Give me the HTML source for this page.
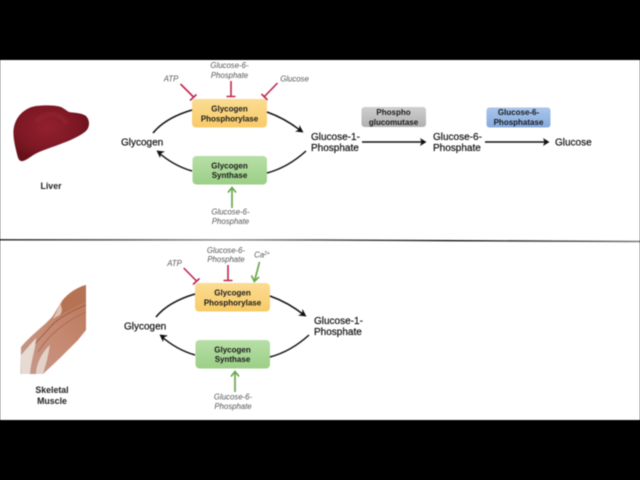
<!DOCTYPE html>
<html>
<head>
<meta charset="utf-8">
<style>
html,body{margin:0;padding:0;background:#000;width:640px;height:480px;overflow:hidden}
svg{display:block;filter:blur(.4px)}
text{font-family:"Liberation Sans",sans-serif}
.m{font-size:10px;fill:#111;stroke:#111;stroke-width:.2px}
.b{font-size:8px;font-weight:bold;fill:#1a1a1a;text-anchor:middle}
.i{font-size:7.8px;font-style:italic;fill:#555;text-anchor:middle}
.s{font-size:8.8px;font-weight:bold;fill:#222;text-anchor:middle}
.k{fill:none;stroke:#111;stroke-width:1.5}
.h{fill:#111;stroke:none}
.r{fill:none;stroke:#c0274d;stroke-width:1.6}
.g{fill:none;stroke:#6aa84f;stroke-width:1.7}
</style>
</head>
<body>
<svg width="640" height="480" viewBox="0 0 640 480" xmlns="http://www.w3.org/2000/svg">
<defs>
<linearGradient id="o" x1="0" y1="0" x2="0" y2="1"><stop offset="0" stop-color="#fbdc93"/><stop offset="1" stop-color="#f8cb68"/></linearGradient>
<linearGradient id="gr" x1="0" y1="0" x2="0" y2="1"><stop offset="0" stop-color="#b7dfa6"/><stop offset="1" stop-color="#9ccf87"/></linearGradient>
<linearGradient id="gy" x1="0" y1="0" x2="0" y2="1"><stop offset="0" stop-color="#cfcfcf"/><stop offset="1" stop-color="#b0b0b0"/></linearGradient>
<linearGradient id="bl" x1="0" y1="0" x2="0" y2="1"><stop offset="0" stop-color="#a9c6ec"/><stop offset="1" stop-color="#86aade"/></linearGradient>
<radialGradient id="lv" cx=".45" cy=".4" r=".6"><stop offset="0" stop-color="#93202e"/><stop offset=".65" stop-color="#7d1824"/><stop offset="1" stop-color="#661019"/></radialGradient>
<linearGradient id="ms" x1="1" y1="0" x2="0" y2="1"><stop offset="0" stop-color="#b9785b"/><stop offset=".55" stop-color="#c78b74"/><stop offset="1" stop-color="#c39a8c"/></linearGradient>
<linearGradient id="dv" x1="0" y1="0" x2="1" y2="0"><stop offset="0" stop-color="#222"/><stop offset=".35" stop-color="#888"/><stop offset=".7" stop-color="#111"/><stop offset="1" stop-color="#777"/></linearGradient>
</defs>

<rect x="0" y="0" width="640" height="480" fill="#000"/>
<rect x="0" y="60" width="640" height="360" fill="#fff"/>
<path d="M0 239.800 L320 240 L640 241.500" stroke="url(#dv)" stroke-width="1.400" fill="none"/>

<!-- Liver -->
<path d="M13.500 130 C15 117 24 108 36 106 C46 105 55 105 61 107 C65 109 67 111 69 112 C75 113 82 113 86 116 C90 120 90 127 86 131 C80 136 71 140 63 143 C53 147 43 150 37 153 C31 156 27 160 23 161 C19 162 18 158 17 154 C15 146 13 138 13.500 130Z" fill="url(#lv)"/>
<path d="M36 122 C46 110 62 113 67 124" fill="none" stroke="#a02f3a" stroke-width="5" opacity=".3"/>
<text class="s" x="51" y="189">Liver</text>

<!-- Muscle -->
<path d="M86 285 C78 287 68 293 62 301 C58 307 55 313 52 317 C44 326 30 336 21 347 L20.500 374 L43 374 L60 358 L78 340 L86 330Z" fill="url(#ms)"/>
<path d="M86 285 C78 287 68 293 62 301 C62 309 58 316 54 320 C65 312 76 306 86 302Z" fill="#b57353"/>
<path d="M22 362 C32 346 44 334 54 323 C65 314 76 309 86 305" fill="none" stroke="#9e5f47" stroke-width="1"/>
<path d="M38 352 C48 336 64 322 86 312" fill="none" stroke="#ad6f55" stroke-width="1"/>
<path d="M60 304 C57 311 55 315 53 319 L60 315 C63 311 62 307 60 304Z" fill="#e0c3b3"/>
<path d="M21 355 L36 338 C36 348 31 360 30 374 L21 374Z" fill="#e7dad2"/>
<path d="M36 374 C36 364 42 352 50 345 L47 360 L43 374Z" fill="#e3d2c8"/>
<text class="s" x="52" y="393">Skeletal</text>
<text class="s" x="52" y="404">Muscle</text>

<!-- TOP PANEL -->
<rect x="192" y="99" width="75" height="28.500" rx="4" fill="url(#o)"/>
<text class="b" x="229.500" y="111.500">Glycogen</text>
<text class="b" x="229.500" y="121.300">Phosphorylase</text>
<rect x="192.500" y="156" width="74.500" height="28.500" rx="4" fill="url(#gr)"/>
<text class="b" x="229.500" y="168.500">Glycogen</text>
<text class="b" x="229.500" y="178.200">Synthase</text>

<text class="m" x="121" y="145.500">Glycogen</text>
<text class="m" x="311" y="140">Glucose-1-</text>
<text class="m" x="311" y="151">Phosphate</text>

<path class="k" d="M192 110 C175 115 162 122 153 133"/>
<path class="k" d="M192 171 C178 167 167 160 158 152"/>
<path class="h" d="M156.500 150.500 L165 151.500 L161 153.500 L160 158Z"/>
<path class="k" d="M267 112 C281 117 291 123 301 131"/>
<path class="h" d="M303.500 132.500 L295 131.500 L299 129.500 L299.500 125Z"/>
<path class="k" d="M267 173 C282 169 295 161 306 151"/>

<!-- Inhibitors top -->
<text class="i" x="171" y="81.500">ATP</text>
<path class="r" d="M180.500 84 L194 97.500 M190 100.500 L196.500 94.500"/>
<text class="i" x="229.500" y="68">Glucose-6-</text>
<text class="i" x="229.500" y="78">Phosphate</text>
<path class="r" d="M231 81 L231 96.500 M226.500 96.500 L235.500 96.500"/>
<text class="i" x="294.500" y="81.500">Glucose</text>
<path class="r" d="M277.500 83 L264 97 M261.500 94 L267.500 100"/>
<path class="g" d="M232 208 L232 188 M228 192.500 L232 187.500 L236 192.500"/>
<text class="i" x="230.500" y="214.500">Glucose-6-</text>
<text class="i" x="230.500" y="224">Phosphate</text>

<!-- Right pathway -->
<rect x="361.500" y="107" width="64.500" height="20" rx="3" fill="url(#gy)"/>
<text class="b" x="393.500" y="115">Phospho</text>
<text class="b" x="393.500" y="125">glucomutase</text>
<rect x="486.500" y="107.500" width="64" height="20" rx="3" fill="url(#bl)"/>
<text class="b" x="518.500" y="115">Glucose-6-</text>
<text class="b" x="518.500" y="125">Phosphatase</text>
<path class="k" d="M362 142 L423 142"/>
<path class="h" d="M426.500 142 L420 138 L421.500 142 L420 146Z"/>
<path class="k" d="M485 142 L546 142"/>
<path class="h" d="M549.500 142 L543 138 L544.500 142 L543 146Z"/>
<text class="m" x="433" y="140">Glucose-6-</text>
<text class="m" x="433" y="151">Phosphate</text>
<text class="m" x="555" y="145.500">Glucose</text>

<!-- BOTTOM PANEL -->
<rect x="195" y="283" width="75" height="28.500" rx="4" fill="url(#o)"/>
<text class="b" x="232.500" y="295.500">Glycogen</text>
<text class="b" x="232.500" y="305.300">Phosphorylase</text>
<rect x="195.500" y="340" width="74.500" height="28.500" rx="4" fill="url(#gr)"/>
<text class="b" x="232.500" y="352.500">Glycogen</text>
<text class="b" x="232.500" y="362.200">Synthase</text>

<text class="m" x="124" y="329.500">Glycogen</text>
<text class="m" x="314" y="324">Glucose-1-</text>
<text class="m" x="314" y="335">Phosphate</text>

<path class="k" d="M195 294 C178 299 165 306 156 317"/>
<path class="k" d="M195 355 C181 351 170 344 161 336"/>
<path class="h" d="M159.500 334.500 L168 335.500 L164 337.500 L163 342Z"/>
<path class="k" d="M270 296 C284 301 294 307 304 315"/>
<path class="h" d="M306.500 316.500 L298 315.500 L302 313.500 L302.500 309Z"/>
<path class="k" d="M270 357 C285 353 298 345 309 335"/>

<text class="i" x="174.500" y="266">ATP</text>
<path class="r" d="M183.700 268 L197 281.500 M193 284.500 L199.500 278.500"/>
<text class="i" x="226" y="253">Glucose-6-</text>
<text class="i" x="226" y="262">Phosphate</text>
<path class="r" d="M228 265 L228 280.500 M223.500 280.500 L232.500 280.500"/>
<text class="i" x="262" y="257.500">Ca<tspan font-size="5" dy="-2.500">2+</tspan></text>
<path class="g" d="M259.500 262 L254.500 281 M251.500 275.500 L254.300 281.500 L259 277"/>
<path class="g" d="M235 392 L235 372 M231 376.500 L235 371.500 L239 376.500"/>
<text class="i" x="233" y="399.500">Glucose-6-</text>
<text class="i" x="233" y="409">Phosphate</text>
</svg>
</body>
</html>
